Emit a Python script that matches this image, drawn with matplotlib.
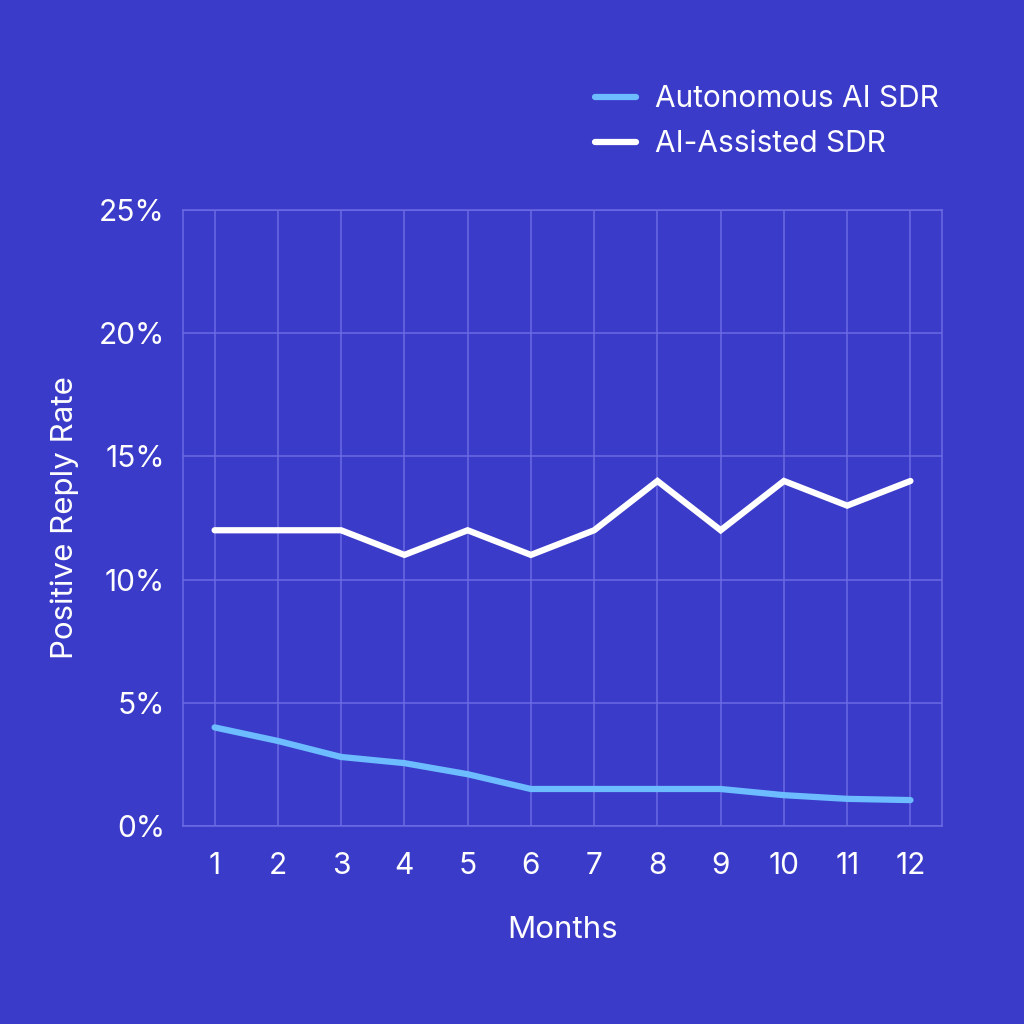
import matplotlib.pyplot as plt
from matplotlib.ticker import FuncFormatter

# ── Data ─────────────────────────────────────────────────────────────────────
months = [1, 2, 3, 4, 5, 6, 7, 8, 9, 10, 11, 12]
autonomous = [4.0, 3.45, 2.8, 2.55, 2.1, 1.5, 1.5, 1.5, 1.5, 1.25, 1.1, 1.05]
assisted = [12, 12, 12, 11, 12, 11, 12, 14, 12, 14, 13, 14]
y_ticks = [0, 5, 10, 15, 20, 25]

# ── Style ────────────────────────────────────────────────────────────────────
BG = "#3b3bc9"
GRID = "#6b6be4"
BLUE = "#6cbcff"
plt.rcParams["font.family"] = ["Inter", "DejaVu Sans"]

fig = plt.figure(figsize=(10.24, 10.24), dpi=100, facecolor=BG)
ax = fig.add_axes([0.1787, 0.1934, 0.7413, 0.6016], facecolor=BG)

ax.plot(months, autonomous, color=BLUE, linewidth=4.5, label="Autonomous AI SDR",
        solid_capstyle="round", solid_joinstyle="miter")
ax.plot(months, assisted, color="white", linewidth=4.5, label="AI-Assisted SDR",
        solid_capstyle="round", solid_joinstyle="miter")

ax.set_xlim(0.5, 12.5)
ax.set_ylim(0, 25)
ax.set_xticks(months)
ax.set_yticks(y_ticks)
ax.yaxis.set_major_formatter(FuncFormatter(lambda v, _: f"{v:.0f}%"))
ax.grid(True, color=GRID, linewidth=1.1)
ax.set_axisbelow(True)
for s in ax.spines.values():
    s.set_color(GRID)
    s.set_linewidth(1.1)

ax.tick_params(length=0, colors="white", labelsize=21.5)
ax.tick_params(axis="x", pad=19)
ax.tick_params(axis="y", pad=13)
ax.set_xlabel("Months", color="white", fontsize=22.5, labelpad=26)
ax.set_ylabel("Positive Reply Rate", color="white", fontsize=22.5, labelpad=14)

fig.legend(loc="upper left", bbox_to_anchor=(0.555, 0.943), frameon=False,
           fontsize=21.5, labelcolor="white", handlelength=1.35, handletextpad=0.65,
           labelspacing=0.56)

fig.savefig("out.png", dpi=100, facecolor=BG)
